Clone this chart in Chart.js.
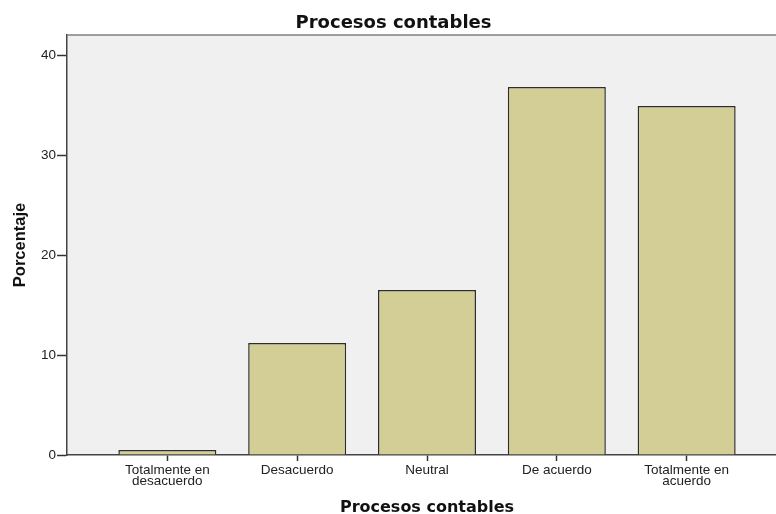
<!DOCTYPE html>
<html>
<head>
<meta charset="utf-8">
<script src="https://cdn.jsdelivr.net/npm/chart.js@4.4.0/dist/chart.umd.min.js"></script>
<style>
  html, body { margin: 0; padding: 0; overflow: hidden; background: #fff; }
  #wrap { width: 776px; height: 514px; overflow: hidden; }
</style>
</head>
<body>
<div id="wrap"><canvas id="grafico" width="787" height="514"></canvas></div>
<script>
// Datos
const categorias = [["Totalmente en", "desacuerdo"], "Desacuerdo", "Neutral", "De acuerdo", ["Totalmente en", "acuerdo"]]
const porcentaje = [0.5, 11.2, 16.5, 36.8, 34.9]
const ticksY = [0, 10, 20, 30, 40]

// fondo gris del area y borde de arriba
const fondoPlot = {
  id: "fondoPlot",
  beforeDraw(chart) {
    const {ctx, chartArea: a} = chart
    ctx.save()
    ctx.fillStyle = "#f0f0f0"
    ctx.fillRect(a.left, a.top, a.right - a.left, a.bottom - a.top)
    ctx.restore()
  },
  afterDraw(chart) {
    const {ctx, chartArea: a} = chart
    ctx.save()
    ctx.strokeStyle = "#808080"
    ctx.lineWidth = 1.5
    ctx.beginPath()
    ctx.moveTo(a.left, a.top)
    ctx.lineTo(a.right, a.top)
    ctx.stroke()
    ctx.restore()
  }
}

const ctx = document.getElementById("grafico").getContext("2d")
new Chart(ctx, {
  type: "bar",
  data: {
    datasets: [{
      label: "Porcentaje",
      data: porcentaje.map((v, i) => ({x: i, y: v})),
      backgroundColor: "#d2ce96",
      borderColor: "#2e2e2e",
      borderWidth: 1.5,
      categoryPercentage: 1,
      barPercentage: 0.755
    }]
  },
  options: {
    responsive: false,
    animation: false,
    layout: {padding: 0},
    plugins: {
      legend: {display: false},
      tooltip: {enabled: false},
      title: {
        display: true,
        text: "Procesos contables",
        color: "#111",
        font: {family: "DejaVu Sans", size: 18, weight: "bold", lineHeight: 1.2},
        padding: {top: 13, bottom: 0.4}
      }
    },
    scales: {
      x: {
        type: "linear",
        min: -0.773,
        max: 4.773,
        offset: false,
        afterBuildTicks: s => { s.ticks = categorias.map((c, i) => ({value: i})) },
        afterFit: s => { s.height = 59 },
        grid: {offset: false, drawOnChartArea: false, drawTicks: true, tickLength: 6, tickColor: "#333", tickWidth: 1.5},
        border: {color: "#444", width: 1.5},
        ticks: {
          color: "#222",
          padding: 4.5,
          maxRotation: 0,
          autoSkip: false,
          font: {family: "Liberation Sans", size: 13.5, lineHeight: 0.76},
          callback: v => categorias[v]
        },
        title: {
          display: true,
          text: "Procesos contables",
          color: "#111",
          font: {family: "DejaVu Sans", size: 16, weight: "bold", lineHeight: 0.75},
          padding: {top: 0, bottom: 0}
        }
      },
      y: {
        min: 0,
        max: 42,
        afterBuildTicks: s => { s.ticks = ticksY.map(v => ({value: v})) },
        afterFit: s => { s.width = 67 },
        grid: {drawOnChartArea: false, drawTicks: true, tickLength: 10, tickColor: "#333", tickWidth: 1.5},
        border: {color: "#444", width: 1.5},
        ticks: {
          color: "#222",
          padding: 1,
          font: {family: "Liberation Sans", size: 13.5}
        },
        title: {
          display: true,
          text: "Porcentaje",
          color: "#111",
          font: {family: "Liberation Sans", size: 16.5, weight: "bold", lineHeight: 1},
          padding: {top: 12, bottom: 0}
        }
      }
    }
  },
  plugins: [fondoPlot]
})
</script>
</body>
</html>
